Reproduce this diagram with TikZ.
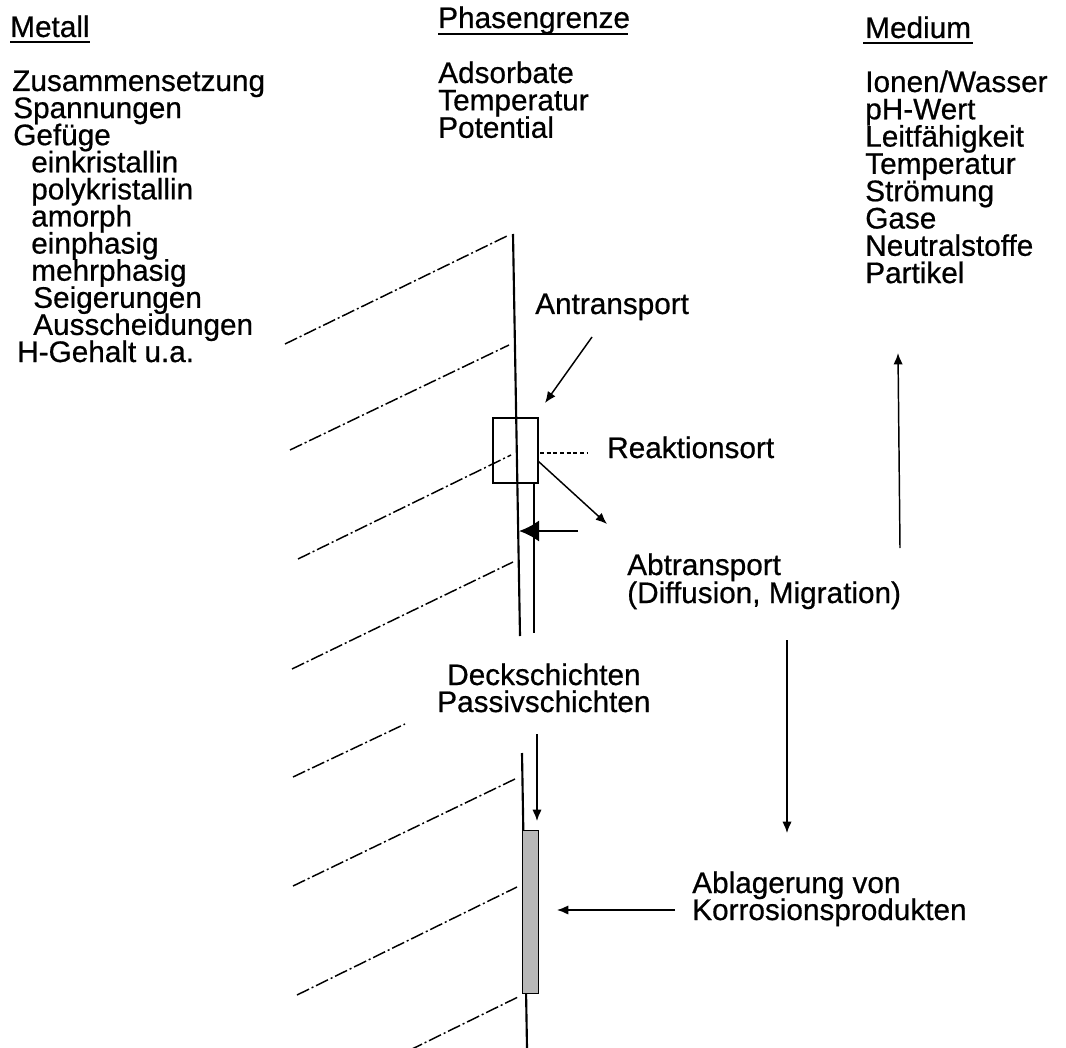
\documentclass[tikz,border=0pt]{standalone}
\usepackage{fontspec}
\setmainfont{Liberation Sans}[BoldFont={Liberation Sans},BoldFeatures={FakeBold=0.6}]
\usetikzlibrary{arrows.meta}
\tikzset{
  txt/.style={anchor=base west, inner sep=0pt, font=\fontsize{22.3}{20}\selectfont\bfseries},
  hatch/.style={line width=1.1pt, dash pattern=on 10pt off 2.2pt on 1.5pt off 2.2pt},
  wall/.style={line width=1.6pt},
  uline/.style={line width=1.3pt},
  arr/.style={line width=1.1pt, -{Latex[length=8.5pt,width=7pt]}},
  thickarr/.style={line width=2.2pt, -{Latex[length=15pt,width=16pt]}},
  shortdash/.style={line width=0.9pt, dash pattern=on 3pt off 2pt}
}
\begin{document}
\begin{tikzpicture}[x=0.75pt,y=-0.75pt]
\useasboundingbox (0,0) rectangle (1066,1048);

% headings
\node[txt] (hmet) at (10,37) {Metall};
\node[txt] (hpha) at (438,28) {Phasengrenze};
\node[txt] (hmed) at (865,38) {Medium};
\draw[uline] (10,42) -- (90,42);
\draw[uline] (438,34) -- (628,34);
\draw[uline] (863,43) -- (973,43);

% Metall list
\foreach \t/\x [count=\i from 0] in {Zusammensetzung/12, Spannungen/13, Gefüge/13,
  einkristallin/31, polykristallin/31, amorph/31, einphasig/31, mehrphasig/31,
  Seigerungen/33, Ausscheidungen/33, H-Gehalt u.a./17}
  \node[txt] (met\i) at (\x,{91+27.1*\i}) {\t};

% Phasengrenze list
\foreach \t [count=\i from 0] in {Adsorbate, Temperatur, Potential}
  \node[txt] (pha\i) at (438,{83+27.4*\i}) {\t};

% Medium list
\foreach \t [count=\i from 0] in {Ionen/Wasser, pH-Wert, Leitfähigkeit, Temperatur,
  Strömung, Gase, Neutralstoffe, Partikel}
  \node[txt] (med\i) at (865,{92+27.3*\i}) {\t};

% labels
\node[txt] (antr) at (535,314) {Antransport};
\node[txt] (reak) at (607,458) {Reaktionsort};
\node[txt] (abt1) at (627,575) {Abtransport};
\node[txt] (abt2) at (627,603) {(Diffusion, Migration)};
\node[txt] (deck) at (447,685) {Deckschichten};
\node[txt] (pass) at (437,712) {Passivschichten};
\node[txt] (abl1) at (692,893) {Ablagerung von};
\node[txt] (abl2) at (692,920) {Korrosionsprodukten};

% hatch lines (metal side)
\draw[hatch] (285,344) -- (507,236);
\draw[hatch] (290,450) -- (509,345);
\draw[hatch] (298,559) -- (511,455);
\draw[hatch] (292,669) -- (513,562);
\draw[hatch] (293,777) -- (405,724);
\draw[hatch] (293,886) -- (515,779);
\draw[hatch] (297,995) -- (517,887);
\draw[hatch] (410,1050) -- (518,997);

% phase boundary, upper part
\coordinate (wtop) at (513,234);
\coordinate (wbot) at (520,636);
\coordinate (rtop) at (534,482);
\coordinate (rbot) at (534,633);
\draw[wall] (wtop) -- (wbot);
\draw[wall] (rtop) -- (rbot);
\node[draw, wall, minimum width=45*0.75pt, minimum height=65*0.75pt, inner sep=0pt, anchor=north west] (box) at (492,417) {};

% phase boundary, lower part
\coordinate (ltop) at (522,753);
\coordinate (lbot) at (527,1048);
\draw[wall] (ltop) -- (lbot);
\node[draw, line width=1pt, fill=black!28, minimum width=16*0.75pt, minimum height=163*0.75pt, inner sep=0pt, anchor=north west] (depo) at (522,830) {};

% connectors
\coordinate (antrS) at (592,337);
\coordinate (antrE) at (545,403);
\draw[arr] (antrS) -- (antrE);

\coordinate (reakS) at (540,453);
\coordinate (reakE) at (587,453);
\draw[shortdash] (reakS) -- (reakE);

\coordinate (abtS) at (538,461);
\coordinate (abtE) at (607,524);
\draw[arr] (abtS) -- (abtE);

\coordinate (thS) at (578,531);
\coordinate (thE) at (519,531);
\draw[thickarr] (thS) -- (thE);

\coordinate (deckS) at (537,734);
\coordinate (deckE) at (537,821);
\draw[arr] (deckS) -- (deckE);

\coordinate (downS) at (787,640);
\coordinate (downE) at (787,833);
\draw[arr] (downS) -- (downE);

\coordinate (leftS) at (675,910);
\coordinate (leftE) at (557,910);
\draw[arr] (leftS) -- (leftE);

\coordinate (upS) at (900,548);
\coordinate (upE) at (898,353);
\draw[arr] (upS) -- (upE);
\end{tikzpicture}
\end{document}
